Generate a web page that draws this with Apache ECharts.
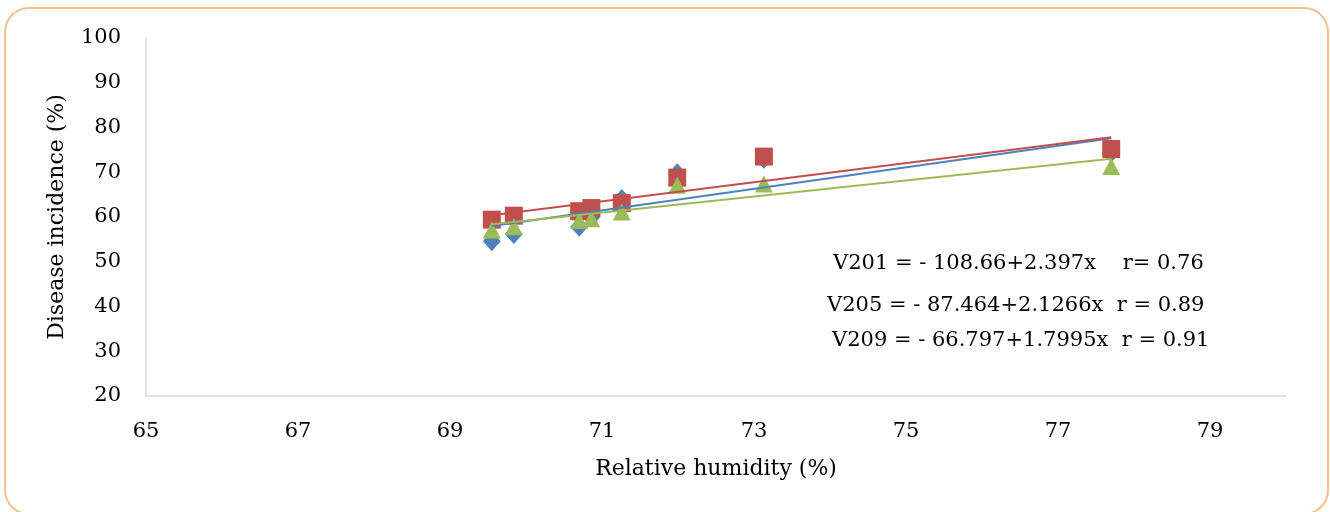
<!DOCTYPE html>
<html>
<head>
<meta charset="utf-8">
<title>Disease incidence vs relative humidity</title>
<script src="https://cdn.jsdelivr.net/npm/echarts@6/dist/echarts.min.js"></script>
<style>
  html, body { margin: 0; padding: 0; background: #fff; }
  #chart { width: 1330px; height: 512px; }
</style>
</head>
<body>
<div id="chart"></div>
<script>
// relative humidity (%) of each observation
var humidity = [69.55, 69.84, 70.70, 70.86, 71.26, 71.99, 73.13, 77.70];

// disease incidence (%) for each variety
var v201 = [54.6, 56.2, 57.8, 60.0, 64.0, 69.8, 73.0, 74.4];
var v205 = [59.4, 60.3, 61.3, 62.0, 63.1, 68.8, 73.5, 75.2];
var v209 = [57.1, 57.8, 59.2, 59.6, 61.1, 67.1, 67.4, 71.3];

// trend line end points
var trendX = [69.55, 77.70];
var trend201 = [58.0, 77.6];
var trend205 = [60.4, 77.8];
var trend209 = [58.4, 73.0];

var equations = [
  'V201 = - 108.66+2.397x    r= 0.76',
  'V205 = - 87.464+2.1266x  r = 0.89',
  'V209 = - 66.797+1.7995x  r = 0.91'
];

var FONT = '"DejaVu Serif", serif';

function pairs(xs, ys) {
  var out = [];
  for (var i = 0; i < xs.length; i++) {
    out.push([xs[i], ys[i]]);
  }
  return out;
}

var chart = echarts.init(document.getElementById('chart'));

var option = {
  animation: false,
  backgroundColor: '#fff',
  textStyle: { fontFamily: FONT },
  grid: { left: 146, right: 44, top: 38, bottom: 116 },
  xAxis: {
    type: 'value',
    min: 65,
    max: 80,
    interval: 2,
    name: 'Relative humidity (%)',
    nameLocation: 'middle',
    nameGap: 62,
    nameTextStyle: { fontFamily: FONT, fontSize: 22, color: '#000' },
    axisLine: { show: true, lineStyle: { color: '#d9d9d9', width: 1.5 } },
    axisTick: { show: false },
    splitLine: { show: false },
    axisLabel: {
      margin: 25,
      fontFamily: FONT,
      fontSize: 21,
      color: '#000',
      formatter: function (v) { return v === 80 ? '' : String(v); }
    }
  },
  yAxis: {
    type: 'value',
    min: 20,
    max: 100,
    interval: 10,
    name: 'Disease incidence (%)',
    nameLocation: 'middle',
    nameGap: 78,
    nameTextStyle: { fontFamily: FONT, fontSize: 22, color: '#000' },
    axisLine: { show: true, lineStyle: { color: '#d9d9d9', width: 1.5 } },
    axisTick: { show: false },
    splitLine: { show: false },
    axisLabel: { margin: 25, fontFamily: FONT, fontSize: 21, color: '#000' }
  },
  series: [
    {
      name: 'V201',
      type: 'scatter',
      symbol: 'diamond',
      symbolSize: [18, 20],
      itemStyle: { color: '#4F81BD', opacity: 1 },
      data: pairs(humidity, v201),
      z: 2
    },
    {
      name: 'V205',
      type: 'scatter',
      symbol: 'rect',
      symbolSize: 18,
      itemStyle: { color: '#C0504D', opacity: 1 },
      data: pairs(humidity, v205),
      z: 3
    },
    {
      name: 'V209',
      type: 'scatter',
      symbol: 'triangle',
      symbolSize: [18, 17],
      itemStyle: { color: '#9BBB59', opacity: 1 },
      data: pairs(humidity, v209),
      z: 4
    },
    {
      type: 'line',
      data: pairs(trendX, trend201),
      showSymbol: false,
      lineStyle: { color: '#4F81BD', width: 2 },
      z: 5
    },
    {
      type: 'line',
      data: pairs(trendX, trend205),
      showSymbol: false,
      lineStyle: { color: '#C0504D', width: 2 },
      z: 5
    },
    {
      type: 'line',
      data: pairs(trendX, trend209),
      showSymbol: false,
      lineStyle: { color: '#9BBB59', width: 2 },
      z: 5
    }
  ],
  graphic: [
    {
      type: 'rect',
      shape: { x: 5, y: 8, width: 1323, height: 506, r: 24 },
      style: { fill: 'none', stroke: '#F8C090', lineWidth: 2 },
      silent: true
    },
    {
      type: 'text', left: 833, top: 253,
      style: { text: equations[0], font: '21px ' + FONT, fill: '#000' }
    },
    {
      type: 'text', left: 827, top: 295,
      style: { text: equations[1], font: '21px ' + FONT, fill: '#000' }
    },
    {
      type: 'text', left: 832, top: 330,
      style: { text: equations[2], font: '21px ' + FONT, fill: '#000' }
    }
  ]
};

chart.setOption(option);

window.onresize = function () {
  chart.resize();
};
</script>
</body>
</html>
